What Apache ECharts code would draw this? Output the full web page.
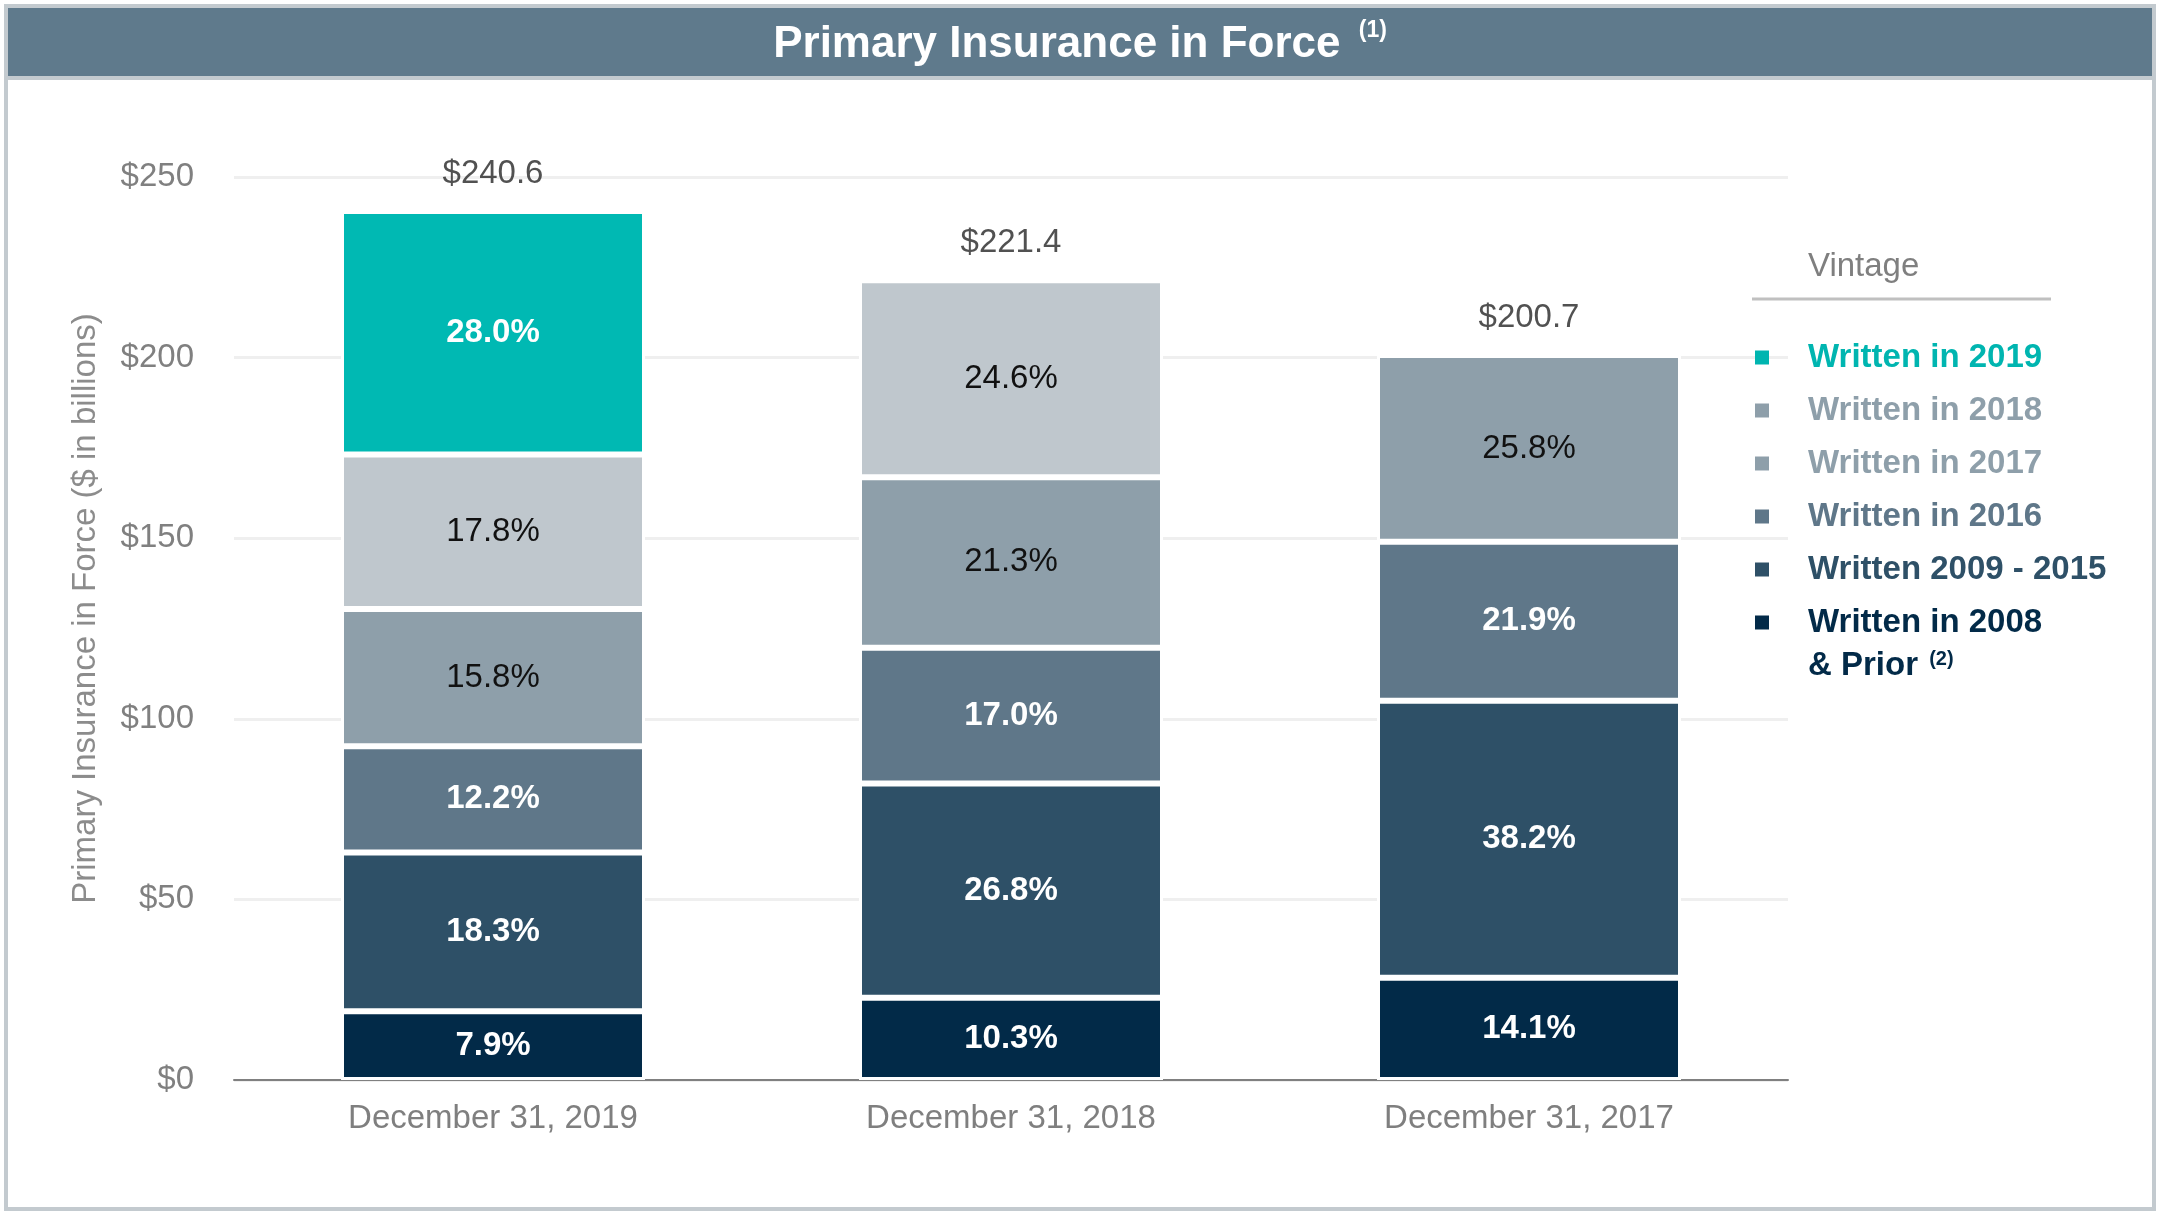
<!DOCTYPE html>
<html>
<head>
<meta charset="utf-8">
<script src="https://cdn.jsdelivr.net/npm/echarts@6/dist/echarts.min.js"></script>
<style>
html,body{margin:0;padding:0;background:#fff;}
#chart{width:2160px;height:1217px;}
</style>
</head>
<body>
<div id="chart"></div>
<script>
// ---- data ----
var categories = ['December 31, 2019', 'December 31, 2018', 'December 31, 2017'];
var totals = [240.6, 221.4, 200.7];
var yTickValues = [0, 50, 100, 150, 200, 250];
var yTickLabels = ['$0', '$50', '$100', '$150', '$200', '$250'];

var seriesNames = ['Written in 2008 & Prior', 'Written 2009 - 2015', 'Written in 2016', 'Written in 2017', 'Written in 2018', 'Written in 2019'];
// amounts in $ billions (bottom to top of stack)
var w2008 = [19.0, 22.8, 28.3];
var w0915 = [44.0, 59.3, 76.7];
var w2016 = [29.4, 37.6, 44.0];
var w2017 = [38.0, 47.2, 51.7];
var w2018 = [42.8, 54.5, '-'];
var w2019 = [67.4, '-', '-'];
// shares shown on the segments
var p2008 = ['7.9%', '10.3%', '14.1%'];
var p0915 = ['18.3%', '26.8%', '38.2%'];
var p2016 = ['12.2%', '17.0%', '21.9%'];
var p2017 = ['15.8%', '21.3%', '25.8%'];
var p2018 = ['17.8%', '24.6%', ''];
var p2019 = ['28.0%', '', ''];

// ---- styles ----
var FONT = "'Liberation Sans', Arial, sans-serif";
var barColors = ['#022a48', '#2e5067', '#5f7789', '#8e9faa', '#bfc7cd', '#00b9b3'];
var legendColors = ['#022a48', '#2e5067', '#5f7789', '#8e9faa', '#8e9faa', '#00b5b0'];
var labelDark = [false, false, false, true, true, false]; // dark (black) label text on light segments

var valueSets = [w2008, w0915, w2016, w2017, w2018, w2019];
var pctSets = [p2008, p0915, p2016, p2017, p2018, p2019];

var series = valueSets.map(function (vals, i) {
  return {
    name: seriesNames[i],
    type: 'bar',
    stack: 'total',
    barWidth: 304,
    data: vals,
    itemStyle: { color: barColors[i], borderColor: '#ffffff', borderWidth: 3 },
    label: {
      show: true,
      position: 'inside',
      fontFamily: FONT,
      fontSize: 33,
      fontWeight: labelDark[i] ? 'normal' : 'bold',
      color: labelDark[i] ? '#111111' : '#ffffff',
      formatter: function (p) { return pctSets[i][p.dataIndex]; }
    },
    emphasis: { disabled: true }
  };
});

series.push({
  name: 'Total',
  type: 'scatter',
  data: totals,
  symbolSize: 1,
  itemStyle: { color: 'rgba(0,0,0,0)' },
  label: {
    show: true,
    position: 'top',
    distance: 20,
    fontFamily: FONT,
    fontSize: 33,
    color: '#262626',
    formatter: function (p) { return '$' + totals[p.dataIndex].toFixed(1); }
  },
  emphasis: { disabled: true },
  z: 5
});

var legendOrder = [5, 4, 3, 2, 1, 0];
var legendData = legendOrder.map(function (i) {
  return {
    name: seriesNames[i],
    icon: 'rect',
    itemStyle: { color: legendColors[i], borderWidth: 0 },
    textStyle: { color: legendColors[i] }
  };
});

var chart = echarts.init(document.getElementById('chart'), null, { renderer: 'canvas' });
chart.setOption({
  backgroundColor: '#ffffff',
  animation: false,
  title: {
    text: 'Primary Insurance in Force {sup|(1)}',
    left: 'center',
    top: 19,
    padding: 0,
    textStyle: {
      fontFamily: FONT,
      fontSize: 44,
      fontWeight: 'bold',
      color: '#ffffff',
      lineHeight: 52,
      rich: {
        sup: { fontFamily: FONT, fontSize: 23, fontWeight: 'bold', color: '#ffffff', verticalAlign: 'top', lineHeight: 52, padding: [0, 0, 22, 6] }
      }
    }
  },
  graphic: [
    { type: 'rect', z: 0, shape: { x: 6, y: 6, width: 2148, height: 1203 }, style: { fill: 'none', stroke: '#c3cacf', lineWidth: 4 } },
    { type: 'rect', z: 0, shape: { x: 8, y: 8, width: 2144, height: 68 }, style: { fill: '#5f7a8c' } },
    { type: 'rect', z: 0, shape: { x: 8, y: 76, width: 2144, height: 4 }, style: { fill: '#c3cacf' } },
    { type: 'text', z: 1, x: 1808, y: 267, style: { text: 'Vintage', font: '33px ' + FONT, fill: '#7f7f7f', verticalAlign: 'middle' } },
    { type: 'line', z: 1, shape: { x1: 1752, y1: 299, x2: 2051, y2: 299 }, style: { stroke: '#c0c0c0', lineWidth: 3 } },
    { type: 'text', z: 1, x: 1808, y: 666, style: {
        text: '& Prior {sup|(2)}', font: 'bold 33px ' + FONT, fill: '#022a48', verticalAlign: 'middle',
        rich: { sup: { font: 'bold 20px ' + FONT, fill: '#022a48', verticalAlign: 'top', padding: [0, 0, 14, 2] } }
    } }
  ],
  legend: {
    orient: 'vertical',
    left: 1755,
    top: 331,
    padding: 0,
    itemGap: 0,
    itemWidth: 14,
    itemHeight: 14,
    selectedMode: false,
    data: legendData,
    formatter: function (name) { return name === 'Written in 2008 & Prior' ? 'Written in 2008' : name; },
    textStyle: { fontFamily: FONT, fontSize: 33, fontWeight: 'bold', lineHeight: 39, padding: [14, 0, 0, 34] }
  },
  grid: { left: 234, right: 372, top: 177, bottom: 137, containLabel: false },
  xAxis: {
    type: 'category',
    data: categories,
    axisLine: { lineStyle: { color: '#808080', width: 2 } },
    axisTick: { show: false },
    axisLabel: { fontFamily: FONT, fontSize: 33, color: '#7f7f7f', margin: 22 }
  },
  yAxis: {
    type: 'value',
    min: 0,
    max: 250,
    interval: 50,
    name: 'Primary Insurance in Force ($ in billions)',
    nameLocation: 'middle',
    nameGap: 132,
    nameTextStyle: { fontFamily: FONT, fontSize: 33, color: '#8c8c8c', padding: [0, 0, 0, 40] },
    axisLine: { show: false },
    axisTick: { show: false },
    splitLine: { lineStyle: { color: '#efefef', width: 3 } },
    axisLabel: {
      fontFamily: FONT, fontSize: 33, color: '#808080', margin: 40,
      formatter: function (v) { var k = yTickValues.indexOf(v); return k >= 0 ? yTickLabels[k] : ''; }
    }
  },
  series: series
});
</script>
</body>
</html>
